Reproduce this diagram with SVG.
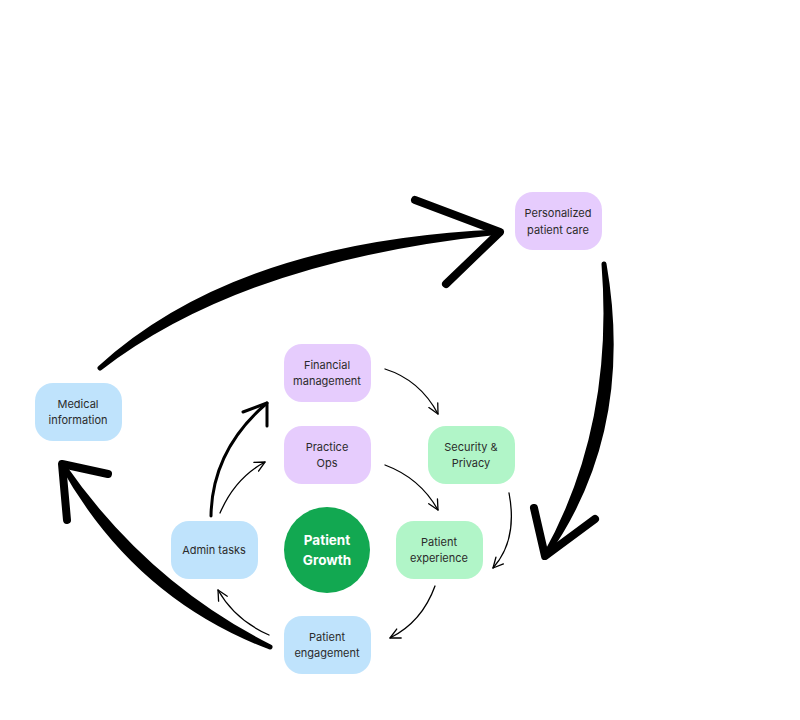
<svg xmlns="http://www.w3.org/2000/svg" width="800" height="720" viewBox="0 0 800 720">
<defs>
<style>
.node rect{rx:18px;ry:18px}
.purple{fill:#E6CCFD}
.blue{fill:#BFE3FC}
.green{fill:#B1F5C8}
.lbl{font-family:Inter,"Liberation Sans",sans-serif;font-size:11px;fill:#2b2b2b;text-anchor:middle}
.big{fill:#000;stroke:#000;stroke-width:5;stroke-linecap:round;stroke-linejoin:round}
.head{fill:none;stroke:#000;stroke-width:8;stroke-linecap:round;stroke-linejoin:round}
.thin{fill:none;stroke:#000;stroke-width:1.3;stroke-linecap:round}
.med{fill:none;stroke:#000;stroke-width:3;stroke-linecap:round;stroke-linejoin:round}
</style>
<marker id="ah" viewBox="0 0 12 12" refX="11" refY="6" markerWidth="12" markerHeight="12" markerUnits="userSpaceOnUse" orient="auto">
<path d="M1,1 L11,6 L1,11" fill="none" stroke="#000" stroke-width="1.3" stroke-linecap="round" stroke-linejoin="round"/>
</marker>
</defs>
<rect width="800" height="720" fill="#fff"/>
<g id="connectors">
<path class="big" d="M100,368 Q237,243 500,232 Q243,258 100,368 Z"/>
<path class="head" d="M415,200 L500,232 L446,284"/>
<path class="big" d="M604,264 Q617,428 545,556 Q633,432 604,264 Z"/>
<path class="head" d="M534,508 L545,556 L595,519"/>
<path class="big" d="M270,647 Q135,596 62,464 Q145,584 270,647 Z"/>
<path class="head" d="M108,474 L62,464 L67,520"/>
<path class="thin" d="M385,369 Q420,380 438,414" marker-end="url(#ah)"/>
<path class="thin" d="M385,465 Q420,478 438,510" marker-end="url(#ah)"/>
<path class="thin" d="M509,493 Q518,540 493,568" marker-end="url(#ah)"/>
<path class="thin" d="M435,586 Q422,622 390,638" marker-end="url(#ah)"/>
<path class="thin" d="M269,635 Q235,620 218,590" marker-end="url(#ah)"/>
<path class="thin" d="M220,513 Q235,478 265,462" marker-end="url(#ah)"/>
<path class="med" d="M211,516 Q212,450 267,403"/>
<path class="med" d="M243,412 L267,403 L267,426"/>
</g>
<g id="personalized" class="node"><rect class="purple" x="515" y="192" width="87" height="58"/><text class="lbl" x="558" y="217">Personalized</text><text class="lbl" x="558" y="234">patient care</text></g>
<g id="medical" class="node"><rect class="blue" x="35" y="383" width="87" height="58"/><text class="lbl" x="78" y="408">Medical</text><text class="lbl" x="78" y="424">information</text></g>
<g id="financial" class="node"><rect class="purple" x="284" y="344" width="87" height="58"/><text class="lbl" x="327" y="369">Financial</text><text class="lbl" x="327" y="385">management</text></g>
<g id="practice" class="node"><rect class="purple" x="284" y="426" width="87" height="58"/><text class="lbl" x="327" y="451">Practice</text><text class="lbl" x="327" y="467">Ops</text></g>
<g id="security" class="node"><rect class="green" x="428" y="426" width="87" height="58"/><text class="lbl" x="471" y="451">Security &amp;</text><text class="lbl" x="471" y="467">Privacy</text></g>
<g id="admin" class="node"><rect class="blue" x="171" y="521" width="87" height="58"/><text class="lbl" x="214" y="554">Admin tasks</text></g>
<g id="growth"><circle cx="327" cy="550" r="43" fill="#12A851"/><text x="327" y="545" font-family="Inter,'Liberation Sans',sans-serif" font-size="13.5" font-weight="bold" fill="#fff" text-anchor="middle">Patient</text><text x="327" y="565" font-family="Inter,'Liberation Sans',sans-serif" font-size="13.5" font-weight="bold" fill="#fff" text-anchor="middle">Growth</text></g>
<g id="experience" class="node"><rect class="green" x="396" y="521" width="87" height="58"/><text class="lbl" x="439" y="546">Patient</text><text class="lbl" x="439" y="562">experience</text></g>
<g id="engagement" class="node"><rect class="blue" x="284" y="616" width="87" height="58"/><text class="lbl" x="327" y="641">Patient</text><text class="lbl" x="327" y="657">engagement</text></g>
</svg>
